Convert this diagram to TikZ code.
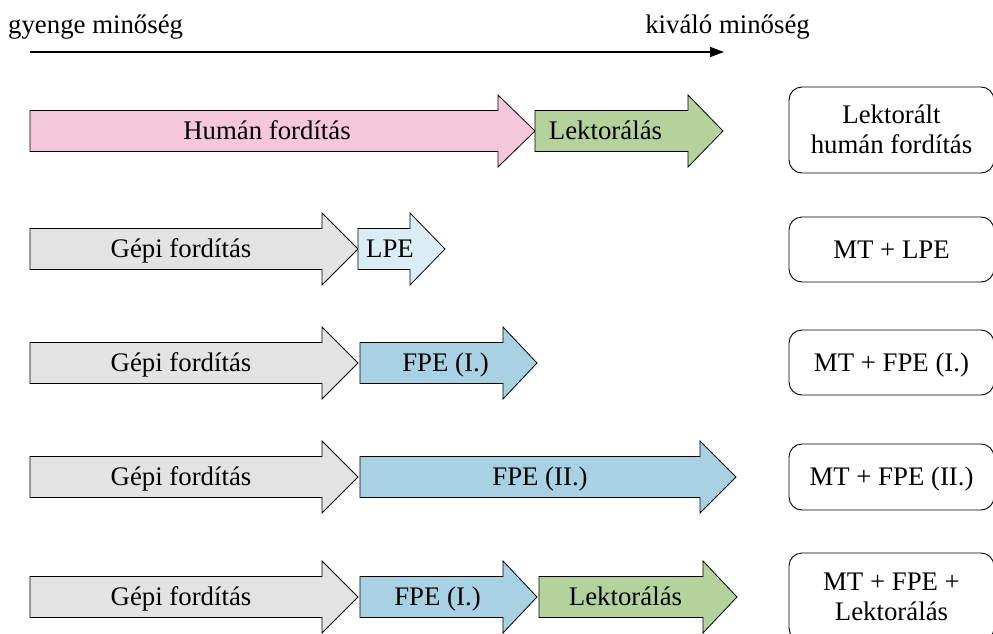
\documentclass[tikz,border=0pt]{standalone}
\usepackage{fontspec}
\setmainfont{Liberation Serif}
\usetikzlibrary{arrows.meta}
\definecolor{cpink}{HTML}{F5C7DB}
\definecolor{cgreen}{HTML}{B4D39C}
\definecolor{cgrey}{HTML}{E3E3E3}
\definecolor{clblue}{HTML}{DAEDF4}
\definecolor{cblue}{HTML}{A8D1E3}
\tikzset{
  lbl/.style={inner sep=0pt, anchor=base, font=\fontsize{26.8}{30}\selectfont, text=black},
  resbox/.style={draw=black, line width=0.9pt, rounded corners=13pt,
    minimum width=205pt, inner sep=0pt},
  blk/.style={draw=black, line width=0.8pt, line join=miter}
}
% \myarrow{x-left}{x-headbase}{x-tip}{y-centre}{colour}
\newcommand\myarrow[5]{%
  \fill[#5] (#1,#4-20.5) -- (#2,#4-20.5) -- (#2,#4-36) -- (#3,#4) -- (#2,#4+36)
     -- (#2,#4+20.5) -- (#1,#4+20.5) -- cycle;
  \draw[blk] (#1,#4-20.5) -- (#2,#4-20.5) -- (#2,#4-36) -- (#3,#4) -- (#2,#4+36)
     -- (#2,#4+20.5) -- (#1,#4+20.5) -- cycle;}
\begin{document}
\begin{tikzpicture}[x=1pt,y=-1pt]
\useasboundingbox (0,0) rectangle (993,634);
% quality axis
\node[lbl, anchor=base west] (low) at (8,34) {gyenge minőség};
\node[lbl, anchor=base east] (high) at (810,34) {kiváló minőség};
\coordinate (axs) at (30,52);
\coordinate (axe) at (724,52);
\draw[line width=1.3pt, -{Triangle[length=14pt,width=10pt]}] (axs) -- (axe);
% row 1
\myarrow{30}{498}{535}{131}{cpink}
\myarrow{535}{688}{723}{131}{cgreen}
\node[lbl] (h1) at (267,139.5) {Humán fordítás};
\node[lbl] (l1) at (605.5,139.5) {Lektorálás};
\node[resbox, minimum height=86pt] (r1) at (891.5,130) {};
\node[lbl] (r1a) at (891.5,123) {Lektorált};
\node[lbl] (r1b) at (891.5,153) {humán fordítás};
% row 2
\myarrow{30}{322}{358}{249}{cgrey}
\myarrow{358}{410}{445}{249}{clblue}
\node[lbl] (g2) at (181,257.5) {Gépi fordítás};
\node[lbl] (p2) at (390,257.5) {LPE};
\node[resbox, minimum height=65pt] (r2) at (891.5,249.5) {};
\node[lbl] (r2a) at (891.5,258) {MT + LPE};
% row 3
\myarrow{30}{322}{358}{363}{cgrey}
\myarrow{360}{503}{537}{363}{cblue}
\node[lbl] (g3) at (181,371.5) {Gépi fordítás};
\node[lbl] (p3) at (445.5,371.5) {FPE (I.)};
\node[resbox, minimum height=65pt] (r3) at (891.5,362.5) {};
\node[lbl] (r3a) at (891.5,371) {MT + FPE (I.)};
% row 4
\myarrow{30}{322}{358}{477}{cgrey}
\myarrow{360}{700}{736}{477}{cblue}
\node[lbl] (g4) at (181,485.5) {Gépi fordítás};
\node[lbl] (p4) at (540,485.5) {FPE (II.)};
\node[resbox, minimum height=66pt] (r4) at (891.5,477) {};
\node[lbl] (r4a) at (891.5,485.5) {MT + FPE (II.)};
% row 5
\myarrow{30}{322}{358}{597}{cgrey}
\myarrow{360}{503}{537}{597}{cblue}
\myarrow{539}{703}{737}{597}{cgreen}
\node[lbl] (g5) at (181,605.5) {Gépi fordítás};
\node[lbl] (p5) at (437.5,605.5) {FPE (I.)};
\node[lbl] (l5) at (625.5,605.5) {Lektorálás};
\node[resbox, minimum height=88pt] (r5) at (891.5,597) {};
\node[lbl] (r5a) at (891.5,590) {MT + FPE +};
\node[lbl] (r5b) at (891.5,620) {Lektorálás};
\end{tikzpicture}
\end{document}
